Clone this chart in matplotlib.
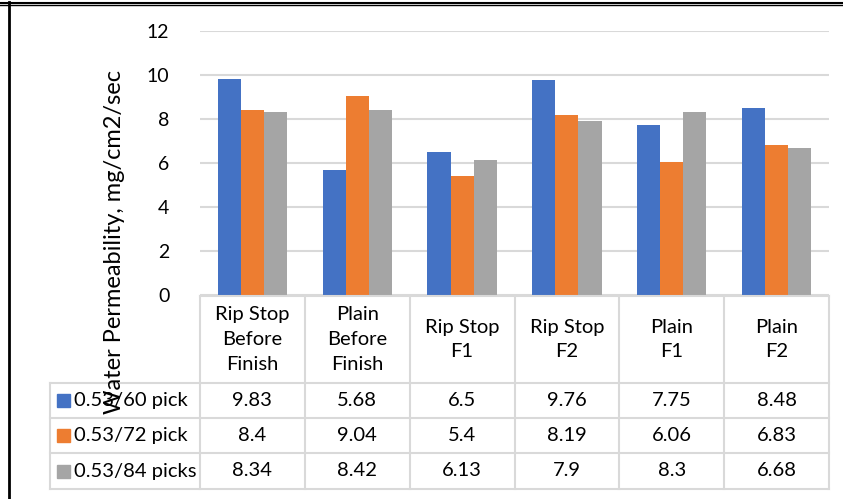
import matplotlib.pyplot as plt
from matplotlib.lines import Line2D
from matplotlib.patches import Rectangle
import numpy as np

plt.rcParams['font.family'] = ['Lato', 'DejaVu Sans']

categories = ['Rip Stop\nBefore\nFinish', 'Plain\nBefore\nFinish', 'Rip Stop\nF1',
              'Rip Stop\nF2', 'Plain\nF1', 'Plain\nF2']
series_names = ['0.53/60 pick', '0.53/72 pick', '0.53/84 picks']
pick60 = [9.83, 5.68, 6.5, 9.76, 7.75, 8.48]
pick72 = [8.4, 9.04, 5.4, 8.19, 6.06, 6.83]
pick84 = [8.34, 8.42, 6.13, 7.9, 8.3, 6.68]
labels60 = ['9.83', '5.68', '6.5', '9.76', '7.75', '8.48']
labels72 = ['8.4', '9.04', '5.4', '8.19', '6.06', '6.83']
labels84 = ['8.34', '8.42', '6.13', '7.9', '8.3', '6.68']
colors = ['#4472C4', '#ED7D31', '#A5A5A5']
yticks = [0, 2, 4, 6, 8, 10, 12]

W, H = 843, 499
grid_c = '#d9d9d9'
fig = plt.figure(figsize=(W / 100, H / 100), dpi=100)

# plot area in pixels
x0, x1, ytop, ybot = 200, 829, 31, 295
ax = fig.add_axes([x0 / W, 1 - ybot / H, (x1 - x0) / W, (ybot - ytop) / H])
n = len(categories)
x = np.arange(n)
bw = 0.22
for i, vals in enumerate([pick60, pick72, pick84]):
    ax.bar(x + (i - 1) * bw, vals, bw, color=colors[i], zorder=3)
ax.set_xlim(-0.5, n - 0.5)
ax.set_ylim(0, 12)
ax.set_yticks(yticks)
ax.set_yticklabels([str(t) for t in yticks], fontsize=14)
ax.tick_params(axis='y', length=0, pad=22)
ax.set_xticks([])
ax.grid(axis='y', color=grid_c, lw=1.5, zorder=0)
for s in ax.spines.values():
    s.set_visible(False)

# data table and frame drawn in pixel space
ov = fig.add_axes([0, 0, 1, 1])
ov.set_xlim(0, W)
ov.set_ylim(H, 0)
ov.axis('off')

col_x = np.linspace(x0, x1, n + 1)
hdr_top, hdr_bot = 296, 383
row_y = [383, 418, 453, 489]
leg_x = 50

ov.add_line(Line2D([x0, x1], [hdr_top, hdr_top], color=grid_c, lw=1.5))
for yy in row_y:
    ov.add_line(Line2D([leg_x, x1], [yy, yy], color=grid_c, lw=1.5))
ov.add_line(Line2D([leg_x, leg_x], [row_y[0], row_y[-1]], color=grid_c, lw=1.5))
for cx in col_x:
    ov.add_line(Line2D([cx, cx], [hdr_top, row_y[-1]], color=grid_c, lw=1.5))

for j, cat in enumerate(categories):
    cx = (col_x[j] + col_x[j + 1]) / 2
    ov.text(cx, (hdr_top + hdr_bot) / 2, cat, ha='center', va='center',
            fontsize=14.5, linespacing=1.55, color='#000000')

for i, labs in enumerate([labels60, labels72, labels84]):
    cy = (row_y[i] + row_y[i + 1]) / 2
    ov.add_patch(Rectangle((57, cy - 6.5), 13, 13, color=colors[i]))
    ov.text(74, cy, series_names[i], ha='left', va='center', fontsize=14.5)
    for j, lab in enumerate(labs):
        cx = (col_x[j] + col_x[j + 1]) / 2
        ov.text(cx, cy, lab, ha='center', va='center', fontsize=14.5)

ov.text(115, 242, 'Water Permeability, mg/cm2/sec', rotation=90,
        ha='center', va='center', fontsize=17)

# outer frame: double line on top, single line on left
ov.add_line(Line2D([0, W], [2.5, 2.5], color='black', lw=1.5))
ov.add_line(Line2D([0, W], [5, 5], color='black', lw=1))
ov.add_line(Line2D([9, 9], [2, H], color='black', lw=2))

fig.savefig('out.png', dpi=100)
